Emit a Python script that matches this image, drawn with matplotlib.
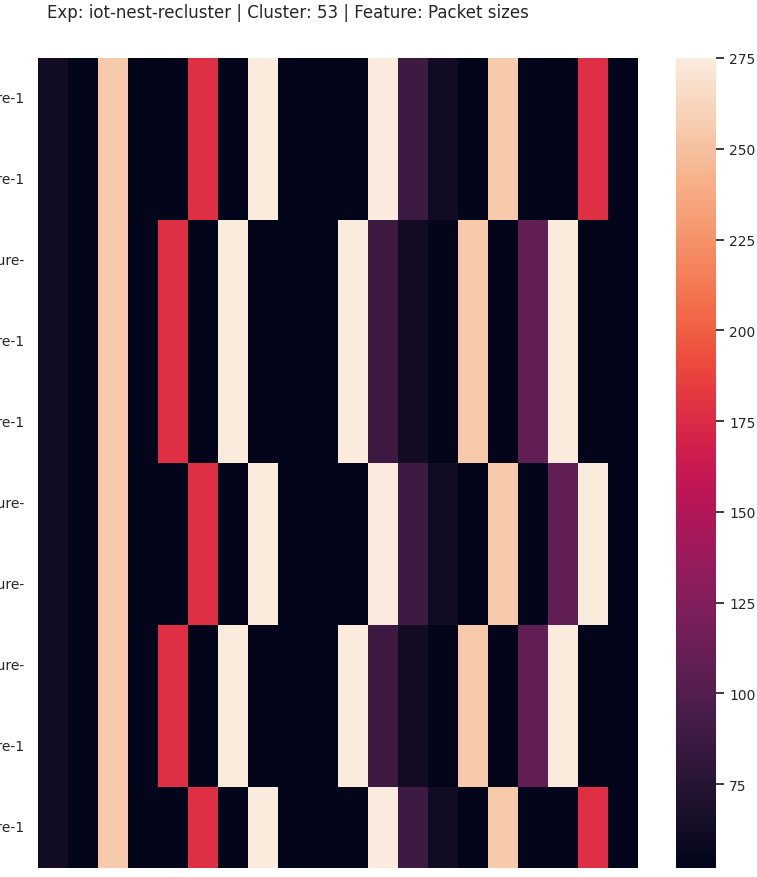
import matplotlib
matplotlib.use("Agg")
import matplotlib.pyplot as plt
import seaborn as sns
import numpy as np

title = "Exp: iot-nest-recluster | Cluster: 53 | Feature: Packet sizes"

# row labels (long names, cut off at the left edge of the figure)
row_labels = ["feature-1", "feature-1", "feature-", "feature-1", "feature-1",
              "feature-", "feature-", "feature-", "feature-1", "feature-1"]

# packet size per position, one list per row
row_0 = [62, 52, 255, 52, 52, 178, 52, 275, 52, 52, 52, 275, 88, 62, 52, 255, 52, 52, 178, 52]
row_1 = [62, 52, 255, 52, 52, 178, 52, 275, 52, 52, 52, 275, 88, 62, 52, 255, 52, 52, 178, 52]
row_2 = [62, 52, 255, 52, 178, 52, 275, 52, 52, 52, 275, 88, 62, 52, 255, 52, 108, 275, 52, 52]
row_3 = [62, 52, 255, 52, 178, 52, 275, 52, 52, 52, 275, 88, 62, 52, 255, 52, 108, 275, 52, 52]
row_4 = [62, 52, 255, 52, 178, 52, 275, 52, 52, 52, 275, 88, 62, 52, 255, 52, 108, 275, 52, 52]
row_5 = [62, 52, 255, 52, 52, 178, 52, 275, 52, 52, 52, 275, 88, 62, 52, 255, 52, 108, 275, 52]
row_6 = [62, 52, 255, 52, 52, 178, 52, 275, 52, 52, 52, 275, 88, 62, 52, 255, 52, 108, 275, 52]
row_7 = [62, 52, 255, 52, 178, 52, 275, 52, 52, 52, 275, 88, 62, 52, 255, 52, 108, 275, 52, 52]
row_8 = [62, 52, 255, 52, 178, 52, 275, 52, 52, 52, 275, 88, 62, 52, 255, 52, 108, 275, 52, 52]
row_9 = [62, 52, 255, 52, 52, 178, 52, 275, 52, 52, 52, 275, 88, 62, 52, 255, 52, 52, 178, 52]

data = np.array([row_0, row_1, row_2, row_3, row_4, row_5, row_6, row_7, row_8, row_9])

sns.set_theme(style="white")

fig = plt.figure(figsize=(7.57, 8.78), dpi=100)
ax = fig.add_axes([38 / 757, 1 - 868.7 / 878, 600 / 757, 809.7 / 878])
cax = fig.add_axes([676 / 757, 1 - 868.7 / 878, 40 / 757, 809.7 / 878])

sns.heatmap(data, ax=ax, cbar_ax=cax, xticklabels=False, yticklabels=row_labels)
ax.tick_params(axis="y", labelsize=10, rotation=0)
cax.tick_params(labelsize=10)

fig.text(47 / 757, 1 - 13 / 878, title, ha="left", va="center", fontsize=12, color="#262626")

fig.savefig("out.png", dpi=100)
